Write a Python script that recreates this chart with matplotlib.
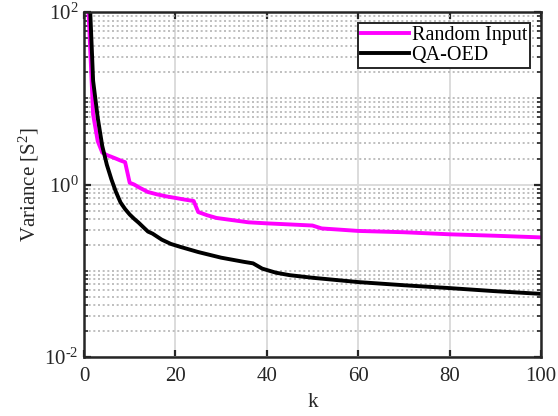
import matplotlib

matplotlib.use("Agg")

import matplotlib.pyplot as plt
import numpy as np
from matplotlib.ticker import FixedLocator, FuncFormatter, NullFormatter

# values
random_k = [1, 2, 3, 4, 5, 6, 7, 8, 9, 10, 11, 12, 14, 16, 18, 20, 22, 24, 25,
            27, 29, 32, 36, 40, 45, 50, 52, 56, 60, 70, 80, 90, 100]
random_var = [100, 6.5, 3.2, 2.35, 2.2, 2.1, 2.0, 1.9, 1.82, 1.05, 1.0, 0.93,
              0.82, 0.77, 0.73, 0.70, 0.67, 0.645, 0.48, 0.44, 0.41, 0.39,
              0.365, 0.355, 0.345, 0.335, 0.31, 0.30, 0.29, 0.28, 0.265,
              0.255, 0.244]

oed_k = [1, 2, 3, 4, 5, 6, 7, 8, 9, 10, 11, 12, 13, 14, 15, 17, 19, 21, 25,
         30, 35, 37, 39, 42, 45, 50, 60, 70, 80, 90, 100]
oed_var = [300, 16, 6.0, 2.8, 1.7, 1.15, 0.82, 0.62, 0.52, 0.45, 0.40, 0.36,
           0.32, 0.285, 0.27, 0.23, 0.205, 0.19, 0.165, 0.142, 0.127, 0.122,
           0.106, 0.095, 0.089, 0.083, 0.074, 0.068, 0.063, 0.058, 0.054]

x_ticks = [0, 20, 40, 60, 80, 100]
y_major = [1e-2, 1e0, 1e2]

plt.rcParams["font.family"] = ["Liberation Serif", "DejaVu Serif"]
plt.rcParams["mathtext.fontset"] = "custom"
plt.rcParams["mathtext.rm"] = "Liberation Serif"
plt.rcParams["mathtext.it"] = "Liberation Serif:italic"

fig = plt.figure(figsize=(5.58, 4.16), dpi=100)
ax = fig.add_axes([0.1505, 0.1418, 0.819, 0.829])

ax.plot(random_k, random_var, color="#ff00ff", lw=2.8, label="Random Input",
        solid_joinstyle="round")
ax.plot(oed_k, oed_var, color="black", lw=2.8, label="QA-OED",
        solid_joinstyle="round")

ax.set_yscale("log")
ax.set_xlim(0, 100)
ax.set_ylim(1e-2, 1e2)

ax.xaxis.set_major_locator(FixedLocator(x_ticks))
ax.yaxis.set_major_locator(FixedLocator(y_major))
minor = [m * 10.0 ** e for e in range(-2, 2) for m in range(2, 11) if m * 10.0 ** e not in y_major]
ax.yaxis.set_minor_locator(FixedLocator(minor))
ax.yaxis.set_minor_formatter(NullFormatter())


def exp_label(v, _):
    e = int(round(np.log10(v)))
    return r"10$^{\text{%d}}$" % e


ax.yaxis.set_major_formatter(FuncFormatter(exp_label))

ax.grid(True, which="major", color="#dcdcdc", lw=1.4, ls="-")
ax.grid(True, which="minor", axis="y", color="#b4b4b4", lw=1.2, ls=(0, (1.2, 1.6)))
ax.set_axisbelow(True)

ax.tick_params(which="both", direction="in", top=True, right=True,
               colors="#262626", labelcolor="#262626", labelsize=15)
ax.tick_params(which="major", length=5, width=1.6, pad=4)
ax.tick_params(which="minor", length=3, width=1.2)
ax.tick_params(axis="x", which="major", pad=7)
for spine in ax.spines.values():
    spine.set_color("#262626")
    spine.set_linewidth(1.8)

ax.set_xlabel("k", fontsize=15, color="#262626", labelpad=5)
ax.set_ylabel(r"Variance [S$^2$]", fontsize=15, color="#262626", labelpad=2)

leg = ax.legend(loc="upper right", fontsize=14.5, frameon=True, fancybox=False,
                borderpad=0.15, handlelength=2.4, handletextpad=0.1,
                labelspacing=0.05, borderaxespad=0.55)
leg.get_frame().set_edgecolor("#262626")
leg.get_frame().set_linewidth(1.4)
leg.get_frame().set_alpha(1.0)

fig.savefig("out.png", dpi=100)
